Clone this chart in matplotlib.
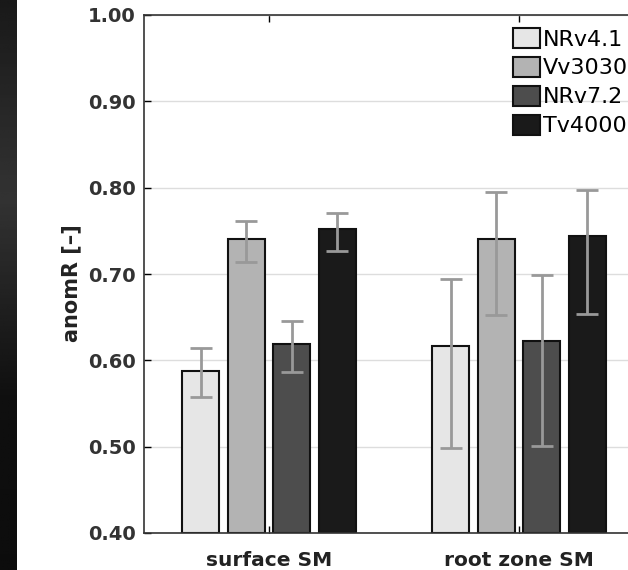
import numpy as np
import matplotlib
matplotlib.use('Agg')
import matplotlib.pyplot as plt

groups = ['surface SM', 'root zone SM']
products = ['NRv4.1', 'Vv3030', 'NRv7.2', 'Tv4000']
colors = ['#e6e6e6', '#b3b3b3', '#4d4d4d', '#1a1a1a']

# mean anomR per product, one entry per group
means = {
	'NRv4.1': [0.588, 0.617],
	'Vv3030': [0.741, 0.741],
	'NRv7.2': [0.619, 0.622],
	'Tv4000': [0.752, 0.744],
}
err_low = {
	'NRv4.1': [0.557, 0.498],
	'Vv3030': [0.714, 0.652],
	'NRv7.2': [0.586, 0.501],
	'Tv4000': [0.727, 0.654],
}
err_high = {
	'NRv4.1': [0.614, 0.694],
	'Vv3030': [0.761, 0.795],
	'NRv7.2': [0.645, 0.699],
	'Tv4000': [0.771, 0.797],
}
yticks = [0.40, 0.50, 0.60, 0.70, 0.80, 0.90, 1.00]

W, H = 628, 570
fig = plt.figure(figsize=(W / 100, H / 100), dpi=100)

# dark strip at the left edge
strip = fig.add_axes([0, 0, 17 / W, 1])
grad = np.interp(np.linspace(0, 1, 200), [0, 0.35, 0.7, 1], [0.10, 0.20, 0.06, 0.05])
strip.imshow(grad[:, None], aspect='auto', cmap='gray', vmin=0, vmax=1)
strip.axis('off')

ax = fig.add_axes([144 / W, 37 / H, 625 / W, 518 / H])

x = np.arange(1, len(groups) + 1)
width = 0.148
step = 0.182
for i, p in enumerate(products):
	pos = x + (i - 1.5) * step
	m = np.array(means[p])
	lo = m - np.array(err_low[p])
	hi = np.array(err_high[p]) - m
	ax.bar(pos, m - 0.40, width, bottom=0.40, color=colors[i], edgecolor='#111111',
		   linewidth=1.5, label=p, zorder=2)
	ax.errorbar(pos, m, yerr=[lo, hi], fmt='none', ecolor='#999999', elinewidth=2,
				capsize=8, capthick=2, zorder=3)

ax.set_xlim(0.5, 3.0)
ax.set_ylim(0.40, 1.00)
ax.set_yticks(yticks)
ax.set_yticklabels(['%.2f' % v for v in yticks], fontsize=14, fontweight='bold', color='#333333')
ax.set_xticks(x)
ax.set_xticklabels(groups, fontsize=14.5, fontweight='bold', color='#222222')
ax.tick_params(axis='both', direction='in', length=5, width=1, top=True, pad=6)
ax.tick_params(axis='x', pad=13)
ax.set_ylabel('anomR [–]', fontsize=15, fontweight='bold', color='#222222')
ax.yaxis.set_label_coords(-0.101, 0.483)
ax.grid(axis='y', color='#dddddd', linewidth=1, zorder=0)
ax.set_axisbelow(True)
for s in ax.spines.values():
	s.set_linewidth(1.2)
	s.set_color('#333333')

leg = fig.legend(loc='upper left', bbox_to_anchor=(513 / W, 1 - 28 / H), frameon=False,
				 fontsize=16, handlelength=1.2, handleheight=1.0, handletextpad=0.15,
				 labelspacing=0.33, borderpad=0, borderaxespad=0)
for h in leg.legend_handles:
	h.set_edgecolor('#111111')
	h.set_linewidth(1.5)

fig.savefig('out.png', dpi=100)
